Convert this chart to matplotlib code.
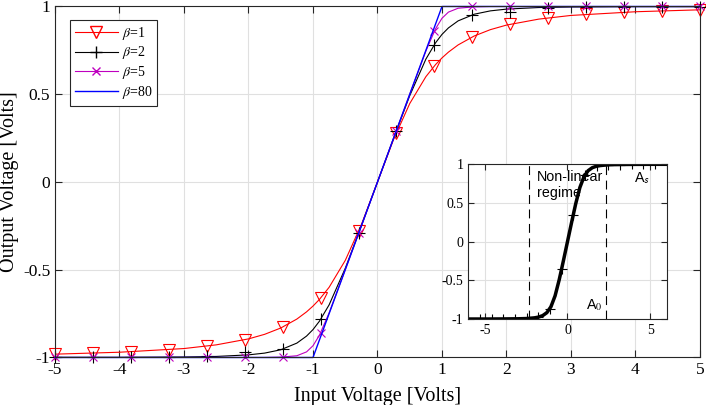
import matplotlib
matplotlib.use("Agg")
import matplotlib.pyplot as plt
from matplotlib.lines import Line2D

plt.rcParams['font.family'] = ['Liberation Serif', 'DejaVu Serif']
plt.rcParams['mathtext.fontset'] = 'stix'

# marker positions (input voltage) used for the beta=1,2,5 curves
x_mark = [-5, -4.41, -3.82, -3.24, -2.65, -2.06, -1.47, -0.88, -0.29,
          0.29, 0.88, 1.47, 2.06, 2.65, 3.24, 3.82, 4.41, 5]
y_mark_b1 = [-0.981, -0.975, -0.967, -0.956, -0.936, -0.900, -0.827, -0.661, -0.279,
             0.279, 0.661, 0.827, 0.900, 0.936, 0.956, 0.967, 0.975, 0.981]
y_mark_b2 = [-0.999, -0.999, -0.998, -0.996, -0.990, -0.970, -0.953, -0.783, -0.290,
             0.290, 0.783, 0.953, 0.970, 0.990, 0.996, 0.998, 0.999, 0.999]
y_mark_b5 = [-1.0, -1.0, -1.0, -1.0, -1.0, -1.0, -1.0, -0.859, -0.290,
             0.290, 0.859, 1.0, 1.0, 1.0, 1.0, 1.0, 1.0, 1.0]

# points along the curves
x_line = [-5, -4, -3, -2.5, -2, -1.75, -1.5, -1.25, -1.1, -1, -0.9, -0.75, -0.5, -0.25, 0,
          0.25, 0.5, 0.75, 0.9, 1, 1.1, 1.25, 1.5, 1.75, 2, 2.5, 3, 4, 5]
y_line_b1 = [-0.981, -0.970, -0.949, -0.928, -0.894, -0.868, -0.832, -0.781, -0.740, -0.707,
             -0.669, -0.600, -0.447, -0.243, 0.0,
             0.243, 0.447, 0.600, 0.669, 0.707, 0.740, 0.781, 0.832, 0.868, 0.894, 0.928,
             0.949, 0.970, 0.981]
y_line_b2 = [-0.999, -0.999, -0.997, -0.994, -0.985, -0.975, -0.956, -0.918, -0.878, -0.841,
             -0.793, -0.700, -0.492, -0.250, 0.0,
             0.250, 0.492, 0.700, 0.793, 0.841, 0.878, 0.918, 0.956, 0.975, 0.985, 0.994,
             0.997, 0.999, 0.999]
y_line_b5 = [-1.0, -1.0, -1.0, -1.0, -1.0, -1.0, -0.998, -0.990, -0.968, -0.933,
             -0.873, -0.746, -0.500, -0.250, 0.0,
             0.250, 0.500, 0.746, 0.873, 0.933, 0.968, 0.990, 0.998, 1.0, 1.0, 1.0,
             1.0, 1.0, 1.0]
x_b80 = [-5, -1, 1, 5]
y_b80 = [-1, -1, 1, 1]

# inset curve
x_ins_mark = [-6, -5.29, -4.59, -3.88, -3.18, -2.47, -1.76, -1.06, -0.35,
              0.35, 1.06, 1.76, 2.47, 3.18, 3.88, 4.59, 5.29, 6]
y_ins_mark = [-1.0, -1.0, -1.0, -0.999, -0.997, -0.993, -0.975, -0.865, -0.350,
              0.350, 0.865, 0.975, 0.993, 0.997, 0.999, 1.0, 1.0, 1.0]
x_ins = [-6, -5, -4, -3, -2.5, -2, -1.75, -1.5, -1.25, -1, -0.75, -0.5, -0.25, 0,
         0.25, 0.5, 0.75, 1, 1.25, 1.5, 1.75, 2, 2.5, 3, 4, 5, 6]
y_ins = [-1.0, -1.0, -0.999, -0.997, -0.994, -0.985, -0.975, -0.956, -0.918, -0.841,
         -0.700, -0.492, -0.250, 0.0,
         0.250, 0.492, 0.700, 0.841, 0.918, 0.956, 0.975, 0.985, 0.994, 0.997, 0.999,
         1.0, 1.0]
a0_edges = [-2.35, 2.35]

axis_col = (0.15, 0.15, 0.15)
grid_col = (0.88, 0.88, 0.88)

fig = plt.figure(figsize=(7.06, 4.05), dpi=100)
ax = fig.add_axes([0.0779, 0.1173, 0.9136, 0.8667])

ax.plot(x_line, y_line_b1, color='red', lw=0.8)
ax.plot(x_mark, y_mark_b1, ls='none', marker='v', ms=8, mfc='none', mec='red', mew=0.8,
        clip_on=False)
ax.plot(x_line, y_line_b2, color='black', lw=0.8)
ax.plot(x_mark, y_mark_b2, ls='none', marker='+', ms=8, color='black', mew=0.8,
        clip_on=False)
ax.plot(x_line, y_line_b5, color='m', lw=0.8)
ax.plot(x_mark, y_mark_b5, ls='none', marker='x', ms=6, color='m', mew=0.8, clip_on=False)
ax.plot(x_b80, y_b80, color='blue', lw=1.0, clip_on=False)

ax.set_xlim(-5, 5)
ax.set_ylim(-1, 1)
ax.set_xticks(range(-5, 6))
ax.set_yticks([-1, -0.5, 0, 0.5, 1])
ax.set_yticklabels(['-1', '-0.5', '0', '0.5', '1'])
ax.set_xticklabels([str(v) for v in range(-5, 6)])
ax.grid(True, color=grid_col, lw=0.8)
ax.set_axisbelow(True)
ax.tick_params(direction='in', top=True, right=True, length=5, width=0.8,
               colors=axis_col, labelsize=12.5, labelcolor='black')
for s in ax.spines.values():
    s.set_color(axis_col)
    s.set_linewidth(0.8)
ax.set_xlabel('Input Voltage [Volts]', fontsize=14.5, labelpad=6)
ax.set_ylabel('Output Voltage [Volts]', fontsize=14.5, labelpad=3)

handles = [
    Line2D([], [], color='red', lw=0.8, marker='v', ms=8, mfc='none', mec='red'),
    Line2D([], [], color='black', lw=0.8, marker='+', ms=8),
    Line2D([], [], color='m', lw=0.8, marker='x', ms=6),
    Line2D([], [], color='blue', lw=1.0),
]
labels = [r'$\beta$=1', r'$\beta$=2', r'$\beta$=5', r'$\beta$=80']
leg = ax.legend(handles, labels, loc='upper left', bbox_to_anchor=(0.023, 0.962),
                borderaxespad=0, fontsize=10, fancybox=False, framealpha=1,
                edgecolor=axis_col, handlelength=3.1, handletextpad=0.3,
                labelspacing=0.2, borderpad=0.35)
leg.get_frame().set_linewidth(0.8)

# inset
ins = fig.add_axes([0.6633, 0.2123, 0.281, 0.382])
ins.plot(x_ins, y_ins, color='black', lw=2.5)
ins.plot(x_ins_mark, y_ins_mark, ls='none', marker='+', ms=7, color='black', mew=0.8)
for xv in a0_edges:
    ins.axvline(xv, color='black', lw=0.8, ls=(0, (8, 5)))
ins.set_xlim(-6, 6)
ins.set_ylim(-1, 1)
ins.set_xticks([-5, 0, 5])
ins.set_xticklabels(['-5', '0', '5'])
ins.set_yticks([-1, -0.5, 0, 0.5, 1])
ins.set_yticklabels(['-1', '-0.5', '0', '0.5', '1'])
ins.grid(True, color=grid_col, lw=0.8)
ins.set_axisbelow(True)
ins.tick_params(direction='in', top=True, right=True, length=4, width=0.8,
                colors=axis_col, labelsize=10, labelcolor='black')
for s in ins.spines.values():
    s.set_color(axis_col)
    s.set_linewidth(0.8)
ins.text(-1.85, 0.93, 'Non-linear\nregime', family='Liberation Sans', fontsize=10.3,
         va='top', ha='left', linespacing=1.25)
ins.text(1.15, -0.82, r'A$_0$', family='Liberation Sans', fontsize=10.3, va='center')
ins.text(4.0, 0.82, r'A$_\mathsf{s}$', family='Liberation Sans', fontsize=10.3, va='center')

fig.savefig('out.png', dpi=100)
